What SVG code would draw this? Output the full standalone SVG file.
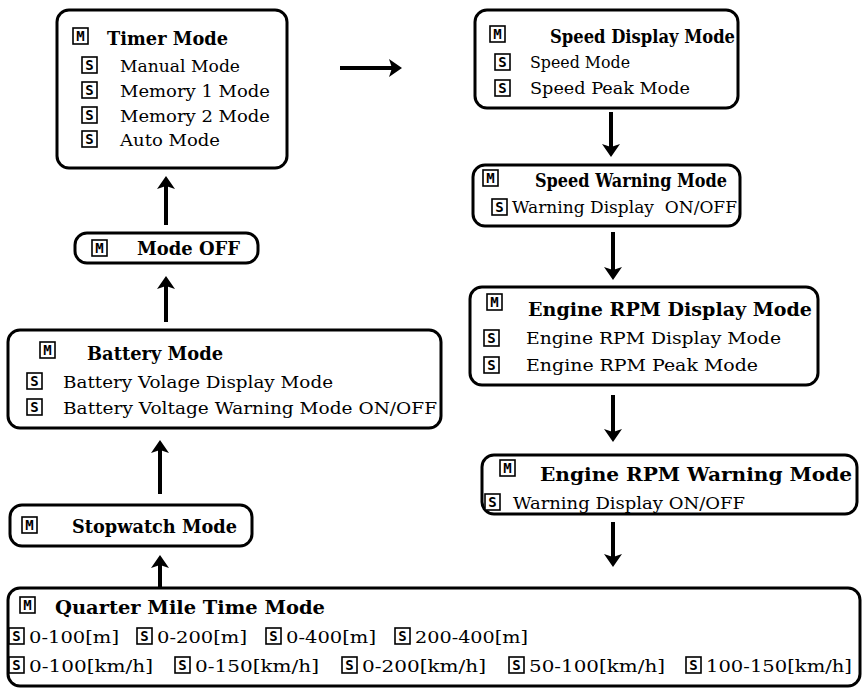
<svg xmlns="http://www.w3.org/2000/svg" width="862" height="690" viewBox="0 0 862 690">
<style>
.box{fill:#fff;stroke:#000;stroke-width:3}
.t{font-family:"DejaVu Serif","Liberation Serif",serif;font-size:17.5px;fill:#000}
.b{font-family:"DejaVu Serif","Liberation Serif",serif;font-size:18.5px;font-weight:bold;fill:#000}
.ic{fill:#fff;stroke:#000;stroke-width:1.6}
.il{font-family:"DejaVu Sans Mono","Liberation Mono",monospace;font-size:14px;font-weight:bold;fill:#000;text-anchor:middle}
.sh{stroke:#000;stroke-width:4;fill:none}
.hd{fill:#000}
.pre{white-space:pre}
</style>
<rect width="862" height="690" fill="#fff"/>

<g id="connectors">
  <line class="sh" x1="340" y1="68" x2="392" y2="68"/><polygon class="hd" points="402,68 389,59 392,68 389,77"/>
  <line class="sh" x1="166" y1="225" x2="166" y2="186"/><polygon class="hd" points="166,176 157,189 166,186 175,189"/>
  <line class="sh" x1="166" y1="322" x2="166" y2="286"/><polygon class="hd" points="166,276 157,289 166,286 175,289"/>
  <line class="sh" x1="160" y1="494" x2="160" y2="450"/><polygon class="hd" points="160,440 151,453 160,450 169,453"/>
  <line class="sh" x1="160" y1="588" x2="160" y2="565"/><polygon class="hd" points="160,555 151,568 160,565 169,568"/>
  <line class="sh" x1="611" y1="112" x2="611" y2="147"/><polygon class="hd" points="611,157 602,144 611,147 620,144"/>
  <line class="sh" x1="613" y1="232" x2="613" y2="270"/><polygon class="hd" points="613,280 604,267 613,270 622,267"/>
  <line class="sh" x1="613" y1="395" x2="613" y2="432"/><polygon class="hd" points="613,442 604,429 613,432 622,429"/>
  <line class="sh" x1="613" y1="522" x2="613" y2="557"/><polygon class="hd" points="613,567 604,554 613,557 622,554"/>
</g>

<g id="timer">
  <rect class="box" x="57" y="10" width="230" height="158" rx="12"/>
  <rect class="ic" x="73" y="28" width="15" height="16"/><text class="il" x="80.5" y="41">M</text>
  <text class="b" x="107" y="45" textLength="121" lengthAdjust="spacingAndGlyphs">Timer Mode</text>
  <rect class="ic" x="82" y="57" width="15" height="16"/><text class="il" x="89.5" y="70">S</text>
  <text class="t" x="120" y="72" textLength="120" lengthAdjust="spacingAndGlyphs">Manual Mode</text>
  <rect class="ic" x="82" y="82" width="15" height="16"/><text class="il" x="89.5" y="95">S</text>
  <text class="t" x="120" y="97" textLength="150" lengthAdjust="spacingAndGlyphs">Memory 1 Mode</text>
  <rect class="ic" x="82" y="107" width="15" height="16"/><text class="il" x="89.5" y="120">S</text>
  <text class="t" x="120" y="122" textLength="150" lengthAdjust="spacingAndGlyphs">Memory 2 Mode</text>
  <rect class="ic" x="82" y="131" width="15" height="16"/><text class="il" x="89.5" y="144">S</text>
  <text class="t" x="120" y="146" textLength="100" lengthAdjust="spacingAndGlyphs">Auto Mode</text>
</g>

<g id="modeoff">
  <rect class="box" x="75" y="233" width="183" height="30" rx="12"/>
  <rect class="ic" x="92" y="240" width="15" height="16"/><text class="il" x="99.5" y="253">M</text>
  <text class="b" x="137" y="255" textLength="103" lengthAdjust="spacingAndGlyphs">Mode OFF</text>
</g>

<g id="battery">
  <rect class="box" x="8" y="330" width="433" height="98" rx="12"/>
  <rect class="ic" x="40" y="342" width="15" height="16"/><text class="il" x="47.5" y="355">M</text>
  <text class="b" x="87" y="360" textLength="136" lengthAdjust="spacingAndGlyphs">Battery Mode</text>
  <rect class="ic" x="27" y="373" width="15" height="16"/><text class="il" x="34.5" y="386">S</text>
  <text class="t" x="63" y="388" textLength="270" lengthAdjust="spacingAndGlyphs">Battery Volage Display Mode</text>
  <rect class="ic" x="27" y="399" width="15" height="16"/><text class="il" x="34.5" y="412">S</text>
  <text class="t" x="63" y="414" textLength="374" lengthAdjust="spacingAndGlyphs">Battery Voltage Warning Mode ON/OFF</text>
</g>

<g id="stopwatch">
  <rect class="box" x="10" y="505" width="242" height="41" rx="12"/>
  <rect class="ic" x="22" y="517" width="15" height="16"/><text class="il" x="29.5" y="530">M</text>
  <text class="b" x="72" y="533" textLength="165" lengthAdjust="spacingAndGlyphs">Stopwatch Mode</text>
</g>

<g id="speeddisplay">
  <rect class="box" x="475" y="10" width="263" height="98" rx="12"/>
  <rect class="ic" x="490" y="26" width="15" height="16"/><text class="il" x="497.5" y="39">M</text>
  <text class="b" x="550" y="43" textLength="185" lengthAdjust="spacingAndGlyphs">Speed Display Mode</text>
  <rect class="ic" x="495" y="54" width="15" height="16"/><text class="il" x="502.5" y="67">S</text>
  <text class="t" x="530" y="68" textLength="100" lengthAdjust="spacingAndGlyphs">Speed Mode</text>
  <rect class="ic" x="495" y="80" width="15" height="16"/><text class="il" x="502.5" y="93">S</text>
  <text class="t" x="530" y="94" textLength="160" lengthAdjust="spacingAndGlyphs">Speed Peak Mode</text>
</g>

<g id="speedwarning">
  <rect class="box" x="473" y="165" width="267" height="61" rx="12"/>
  <rect class="ic" x="483" y="170" width="15" height="16"/><text class="il" x="490.5" y="183">M</text>
  <text class="b" x="535" y="187" textLength="192" lengthAdjust="spacingAndGlyphs">Speed Warning Mode</text>
  <rect class="ic" x="492" y="199" width="15" height="16"/><text class="il" x="499.5" y="212">S</text>
  <text class="t pre" x="512" y="213" textLength="225" lengthAdjust="spacingAndGlyphs">Warning Display  ON/OFF</text>
</g>

<g id="rpmdisplay">
  <rect class="box" x="470" y="287" width="348" height="98" rx="12"/>
  <rect class="ic" x="487" y="294" width="15" height="16"/><text class="il" x="494.5" y="307">M</text>
  <text class="b" x="528" y="316" textLength="284" lengthAdjust="spacingAndGlyphs">Engine RPM Display Mode</text>
  <rect class="ic" x="484" y="330" width="15" height="16"/><text class="il" x="491.5" y="343">S</text>
  <text class="t" x="526" y="344" textLength="255" lengthAdjust="spacingAndGlyphs">Engine RPM Display Mode</text>
  <rect class="ic" x="484" y="357" width="15" height="16"/><text class="il" x="491.5" y="370">S</text>
  <text class="t" x="526" y="371" textLength="232" lengthAdjust="spacingAndGlyphs">Engine RPM Peak Mode</text>
</g>

<g id="rpmwarning">
  <rect class="box" x="482" y="455" width="375" height="59" rx="12"/>
  <rect class="ic" x="500" y="460" width="15" height="16"/><text class="il" x="507.5" y="473">M</text>
  <text class="b" x="540" y="481" textLength="312" lengthAdjust="spacingAndGlyphs">Engine RPM Warning Mode</text>
  <rect class="ic" x="485" y="494" width="15" height="16"/><text class="il" x="492.5" y="507">S</text>
  <text class="t" x="513" y="509" textLength="232" lengthAdjust="spacingAndGlyphs">Warning Display ON/OFF</text>
</g>

<g id="quartermile">
  <rect class="box" x="8" y="588" width="852" height="98" rx="12"/>
  <rect class="ic" x="20" y="597" width="15" height="16"/><text class="il" x="27.5" y="610">M</text>
  <text class="b" x="55" y="614" textLength="270" lengthAdjust="spacingAndGlyphs">Quarter Mile Time Mode</text>
  <rect class="ic" x="9" y="628" width="15" height="16"/><text class="il" x="16.5" y="641">S</text>
  <text class="t" x="29" y="643" textLength="90" lengthAdjust="spacingAndGlyphs">0-100[m]</text>
  <rect class="ic" x="137" y="628" width="15" height="16"/><text class="il" x="144.5" y="641">S</text>
  <text class="t" x="157" y="643" textLength="90" lengthAdjust="spacingAndGlyphs">0-200[m]</text>
  <rect class="ic" x="266" y="628" width="15" height="16"/><text class="il" x="273.5" y="641">S</text>
  <text class="t" x="286" y="643" textLength="90" lengthAdjust="spacingAndGlyphs">0-400[m]</text>
  <rect class="ic" x="395" y="628" width="15" height="16"/><text class="il" x="402.5" y="641">S</text>
  <text class="t" x="415" y="643" textLength="113" lengthAdjust="spacingAndGlyphs">200-400[m]</text>
  <rect class="ic" x="9" y="657" width="15" height="16"/><text class="il" x="16.5" y="670">S</text>
  <text class="t" x="29" y="672" textLength="124" lengthAdjust="spacingAndGlyphs">0-100[km/h]</text>
  <rect class="ic" x="175" y="657" width="15" height="16"/><text class="il" x="182.5" y="670">S</text>
  <text class="t" x="195" y="672" textLength="124" lengthAdjust="spacingAndGlyphs">0-150[km/h]</text>
  <rect class="ic" x="342" y="657" width="15" height="16"/><text class="il" x="349.5" y="670">S</text>
  <text class="t" x="362" y="672" textLength="124" lengthAdjust="spacingAndGlyphs">0-200[km/h]</text>
  <rect class="ic" x="509" y="657" width="15" height="16"/><text class="il" x="516.5" y="670">S</text>
  <text class="t" x="529" y="672" textLength="136" lengthAdjust="spacingAndGlyphs">50-100[km/h]</text>
  <rect class="ic" x="686" y="657" width="15" height="16"/><text class="il" x="693.5" y="670">S</text>
  <text class="t" x="706" y="672" textLength="146" lengthAdjust="spacingAndGlyphs">100-150[km/h]</text>
</g>
</svg>
